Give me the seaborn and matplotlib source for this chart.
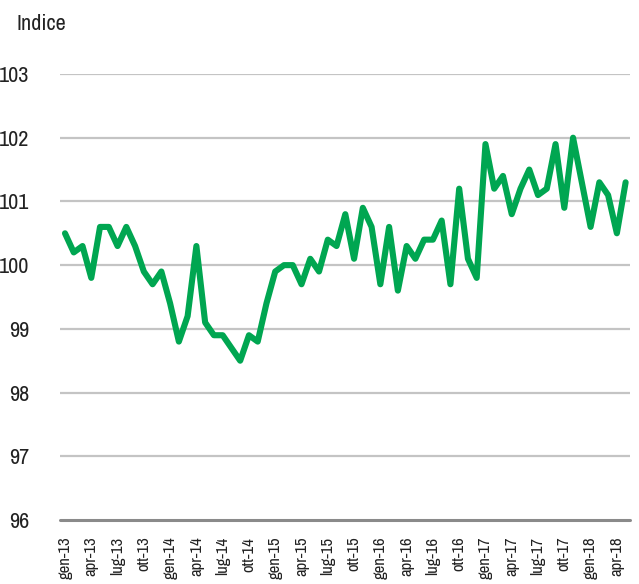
import numpy as np
import pandas as pd
import matplotlib
matplotlib.use('Agg')
import matplotlib.pyplot as plt
from matplotlib import font_manager
import seaborn as sns

# Monthly index, gen-13 .. mag-18
indice = [100.5, 100.2, 100.3, 99.8, 100.6, 100.6, 100.3, 100.6, 100.3, 99.9, 99.7, 99.9,
          99.4, 98.8, 99.2, 100.3, 99.1, 98.9, 98.9, 98.7, 98.5, 98.9, 98.8, 99.4,
          99.9, 100.0, 100.0, 99.7, 100.1, 99.9, 100.4, 100.3, 100.8, 100.1, 100.9, 100.6,
          99.7, 100.6, 99.6, 100.3, 100.1, 100.4, 100.4, 100.7, 99.7, 101.2, 100.1, 99.8,
          101.9, 101.2, 101.4, 100.8, 101.2, 101.5, 101.1, 101.2, 101.9, 100.9, 102.0, 101.3,
          100.6, 101.3, 101.1, 100.5, 101.3]
tick_labels = ['gen-13', 'apr-13', 'lug-13', 'ott-13', 'gen-14', 'apr-14', 'lug-14', 'ott-14',
               'gen-15', 'apr-15', 'lug-15', 'ott-15', 'gen-16', 'apr-16', 'lug-16', 'ott-16',
               'gen-17', 'apr-17', 'lug-17', 'ott-17', 'gen-18', 'apr-18']
y_ticks = [96, 97, 98, 99, 100, 101, 102, 103]

df = pd.DataFrame({'mese': np.arange(len(indice)), 'indice': indice})

sns.set_style('white')

# look for a narrow font, the original uses a condensed face
narrow = None
stretch = 'normal'
for f in font_manager.fontManager.ttflist:
    if ('Narrow' in f.name or 'Condensed' in f.name) and f.weight in (400, 'normal', 'regular'):
        narrow = f.name
        break
if narrow is None:
    for f in font_manager.fontManager.ttflist:
        if isinstance(f.stretch, int) and f.stretch < 500:
            narrow = f.name
            stretch = f.stretch
            break
fams = [narrow, 'DejaVu Sans'] if narrow else ['DejaVu Sans']
plt.rcParams['font.family'] = fams
plt.rcParams['font.stretch'] = stretch
plt.rcParams['text.color'] = '#222222'

fs_y = 16 if narrow else 13
fs_x = 12 if narrow else 9

fig = plt.figure(figsize=(6.39, 5.84), dpi=100)
ax = fig.add_axes([60/639, 1-520/584, 570/639, 446/584])

sns.lineplot(data=df, x='mese', y='indice', color='#00a651', linewidth=4.4, ax=ax,
             zorder=3)

ax.set_ylim(96, 103)
ax.set_xlim(-0.57, 64.5)
ax.set_yticks(y_ticks)
ax.set_yticklabels([str(v) for v in y_ticks], fontsize=fs_y, color='#222222')
ax.set_xticks(np.arange(0, len(indice), 3))
ax.set_xticklabels(tick_labels, rotation=90, fontsize=fs_x, color='#222222', va='top', ha='center')
ax.tick_params(axis='y', length=0, pad=22)
ax.tick_params(axis='x', length=0, pad=12)
for v in y_ticks[1:]:
    ax.axhline(v, color='#c4c4c4', linewidth=1.6, zorder=1)
ax.axhline(96, color='#8a8a8a', linewidth=2.2, zorder=2, clip_on=False)
for s in ax.spines.values():
    s.set_visible(False)
ax.set_xlabel('')
ax.set_ylabel('')

fig.text(16/639, 1-24/584, 'Indice', fontsize=fs_y, va='center', ha='left', color='#222222')

fig.savefig('out.png', dpi=100)
